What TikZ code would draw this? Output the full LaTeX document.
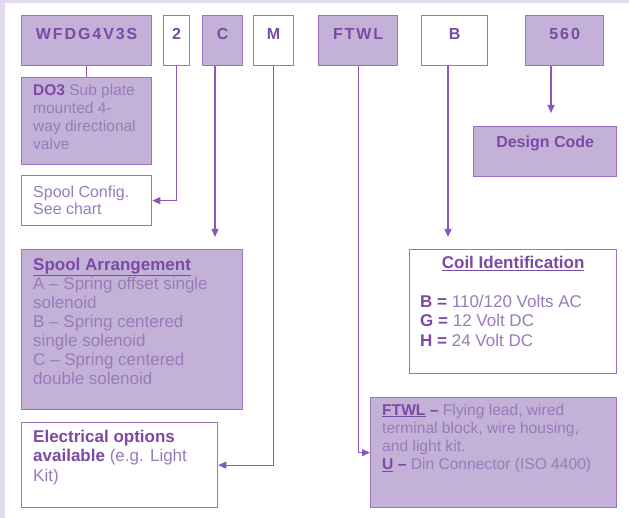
\documentclass[tikz,border=0pt]{standalone}
\usepackage{fontspec}
\setmainfont{Liberation Sans}
\newfontfamily\spacedfont[LetterSpace=12]{Liberation Sans}
\usetikzlibrary{arrows.meta,calc}
\definecolor{fillc}{HTML}{C4B1D7}
\definecolor{bordc}{HTML}{9C72C4}
\definecolor{linec}{HTML}{8A58B8}
\definecolor{boldc}{HTML}{7A4AA4}
\definecolor{bodyc}{HTML}{977CB8}
\definecolor{bgc}{HTML}{E3DAEE}
\newcommand\bt[1]{{\bfseries\color{boldc}#1}}
\newcommand\myul[1]{\underline{#1}}
\begin{document}
\begin{tikzpicture}[x=1pt,y=-1pt,
  fbox/.style={draw=bordc, fill=fillc, line width=1.3pt, inner sep=0pt, anchor=north west},
  wbox/.style={fbox, fill=white},
  toplbl/.style={anchor=base, inner sep=0pt, text=boldc, font=\spacedfont\bfseries\fontsize{16}{19}\selectfont},
  body/.style={anchor=north west, inner sep=0pt, align=left, text=bodyc},
  conn/.style={draw=linec, line width=1.2pt},
  arr/.style={conn, -{Triangle[length=8pt,width=7pt]}},
]
\fill[bgc] (0,0) rectangle (629,518);
\fill[white] (5,3) rectangle (629,518);
\useasboundingbox (0,0) rectangle (629,518);

% top row
\node[fbox, minimum width=130, minimum height=50] (wf) at (21,15) {};
\node[wbox, minimum width=26, minimum height=50] (two) at (163,15) {};
\node[fbox, minimum width=40, minimum height=50] (c) at (202,15) {};
\node[wbox, minimum width=40, minimum height=50] (m) at (253,15) {};
\node[fbox, minimum width=79, minimum height=50] (ftwl) at (318,15) {};
\node[wbox, minimum width=66, minimum height=50] (b) at (421,15) {};
\node[fbox, minimum width=78, minimum height=50] (code) at (525,15) {};

\node[toplbl] (wft) at ($(wf.north)+(0,25)$) {WFDG4V3S};
\node[toplbl] (twot) at ($(two.north)+(0,25)$) {2};
\node[toplbl] (ct) at ($(c.north)+(0,25)$) {C};
\node[toplbl] (mt) at ($(m.north)+(0,25)$) {M};
\node[toplbl] (ftwlt) at ($(ftwl.north)+(0,25)$) {FTWL};
\node[toplbl] (bt) at ($(b.north)+(0,25)$) {B};
\node[toplbl] (codet) at ($(code.north)+(0,25)$) {560};

% description boxes
\node[fbox, minimum width=143, minimum height=50] (dc) at (473,126) {};
\node[anchor=base, inner sep=0pt, text=boldc, font=\bfseries\fontsize{16}{19}\selectfont] (dct) at ($(dc.north)+(0,22)$) {Design Code};

\node[fbox, minimum width=130, minimum height=87] (do3) at (21,77) {};
\node[body, font=\fontsize{15.5}{18}\selectfont] (do3t) at (33,82.4)
  {\strut\bt{DO3} Sub plate\\mounted 4-\\way directional\\valve};

\node[wbox, minimum width=130, minimum height=50] (sc) at (21,175) {};
\node[body, font=\fontsize{16}{17}\selectfont] (sct) at (33,185.1)
  {\strut Spool Config.\\See chart};

\node[fbox, minimum width=221, minimum height=160] (sa) at (21,249) {};
\node[body, font=\fontsize{17}{19}\selectfont] (sat) at (33,256.7)
  {\strut\bt{\myul{Spool Arrangement}}\\A -- Spring offset single\\solenoid\\B -- Spring centered\\single solenoid\\C -- Spring centered\\double solenoid};

\node[wbox, minimum width=196, minimum height=85] (el) at (21,422) {};
\node[body, font=\fontsize{17}{19.5}\selectfont] (elt) at (33,428.35)
  {\strut\bt{Electrical options}\\\bt{available} (e.g. Light\\Kit)};

\node[wbox, minimum width=207, minimum height=124] (coil) at (409,249) {};
\node[anchor=base, inner sep=0pt, text=boldc, font=\bfseries\fontsize{17}{19}\selectfont] (coilt) at ($(coil.north)+(0,20)$) {\myul{Coil Identification}};
\node[body, font=\fontsize{17}{19.5}\selectfont] (coilb) at (420,293.35)
  {\strut\bt{B =} 110/120 Volts AC\\\bt{G =} 12 Volt DC\\\bt{H =} 24 Volt DC};

\node[fbox, minimum width=246, minimum height=110] (fd) at (370,397) {};
\node[body, font=\fontsize{15.6}{18}\selectfont] (fdt) at (382,402.4)
  {\strut\bt{\myul{FTWL} --} Flying lead, wired\\terminal block, wire housing,\\and light kit.\\\bt{\myul{U} --} Din Connector (ISO 4400)};

% connectors
\draw[conn] (wf.south) -- (do3.north);
\draw[arr] (two.south) |- (sc.east);
\coordinate (cend) at (215,237);
\draw[arr] (c.south -| cend) -- (cend);
\draw[arr] (m.south) |- (el.east);
\draw[arr] (ftwl.south) |- (fd.west);
\coordinate (bend) at (448,237);
\draw[arr] (b.south -| bend) -- (bend);
\coordinate (codeend) at (551,113);
\draw[arr] (code.south -| codeend) -- (codeend);
\end{tikzpicture}
\end{document}
